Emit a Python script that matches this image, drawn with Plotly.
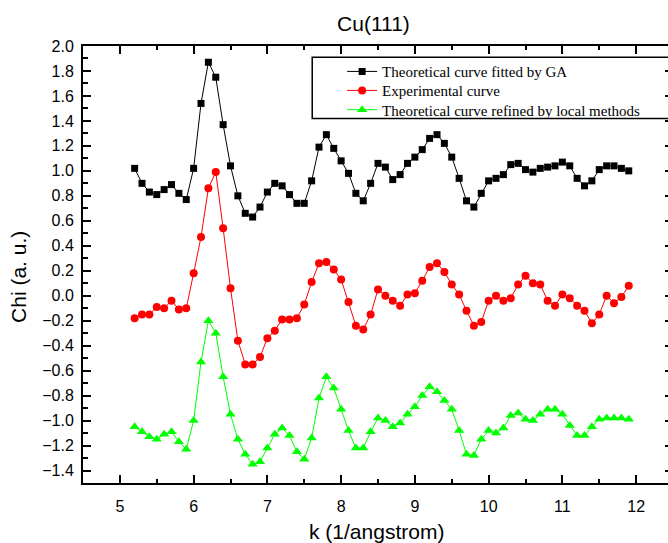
import plotly.graph_objects as go

k = [5.2, 5.3, 5.4, 5.5, 5.6, 5.7, 5.8, 5.9,
     6.0, 6.1, 6.2, 6.3, 6.4, 6.5, 6.6, 6.7, 6.8, 6.9,
     7.0, 7.1, 7.2, 7.3, 7.4, 7.5, 7.6, 7.7, 7.8, 7.9,
     8.0, 8.1, 8.2, 8.3, 8.4, 8.5, 8.6, 8.7, 8.8, 8.9,
     9.0, 9.1, 9.2, 9.3, 9.4, 9.5, 9.6, 9.7, 9.8, 9.9,
     10.0, 10.1, 10.2, 10.3, 10.4, 10.5, 10.6, 10.7, 10.8, 10.9,
     11.0, 11.1, 11.2, 11.3, 11.4, 11.5, 11.6, 11.7, 11.8, 11.9]

ga_fit = [1.02, 0.90, 0.83, 0.81, 0.85, 0.89, 0.82, 0.77,
          1.02, 1.54, 1.87, 1.75, 1.37, 1.04, 0.80, 0.66, 0.63, 0.71,
          0.83, 0.90, 0.88, 0.81, 0.74, 0.74, 0.92, 1.19, 1.29, 1.18,
          1.08, 0.98, 0.82, 0.76, 0.90, 1.06, 1.03, 0.93, 0.97, 1.06,
          1.11, 1.17, 1.26, 1.29, 1.22, 1.11, 0.94, 0.76, 0.71, 0.82,
          0.92, 0.94, 0.97, 1.05, 1.06, 1.01, 0.99, 1.02, 1.03, 1.04,
          1.07, 1.04, 0.94, 0.88, 0.92, 1.01, 1.04, 1.04, 1.02, 1.00]

experimental = [-0.18, -0.15, -0.15, -0.09, -0.10, -0.04, -0.11, -0.10,
                0.18, 0.47, 0.86, 0.99, 0.54, 0.06, -0.36, -0.55, -0.55, -0.49,
                -0.34, -0.28, -0.19, -0.19, -0.18, -0.07, 0.11, 0.26, 0.27, 0.21,
                0.13, -0.05, -0.24, -0.27, -0.15, 0.05, 0.00, -0.04, -0.08, 0.01,
                0.02, 0.12, 0.23, 0.26, 0.19, 0.09, 0.01, -0.12, -0.24, -0.21,
                -0.04, 0.00, -0.04, -0.02, 0.09, 0.16, 0.10, 0.09, -0.04, -0.08,
                0.01, -0.02, -0.08, -0.12, -0.22, -0.15, 0.00, -0.06, -0.01, 0.08]

local_refined = [-1.05, -1.09, -1.13, -1.15, -1.11, -1.09, -1.17, -1.23,
                 -1.00, -0.53, -0.20, -0.30, -0.65, -0.95, -1.15, -1.27, -1.35, -1.33,
                 -1.22, -1.11, -1.06, -1.12, -1.25, -1.31, -1.14, -0.82, -0.65, -0.74,
                 -0.91, -1.08, -1.22, -1.22, -1.09, -0.98, -1.00, -1.05, -1.02, -0.95,
                 -0.89, -0.80, -0.73, -0.77, -0.84, -0.91, -1.08, -1.27, -1.28, -1.15,
                 -1.08, -1.10, -1.06, -0.96, -0.94, -0.99, -1.00, -0.95, -0.91, -0.91,
                 -0.95, -1.04, -1.12, -1.12, -1.05, -0.99, -0.98, -0.98, -0.98, -0.99]

names = ["Theoretical curve fitted by GA",
         "Experimental curve",
         "Theoretical curve refined by local methods"]

# The plot frame runs slightly past the right edge of the 668px window,
# as in the reference (cropped right axis).
W, H = 676, 543
ML, MR, MT = 83, 1, 46
MB = H - 483.5

pw = W - ML - MR
ph = H - MT - MB
def px_x(p):
    return (p - ML) / pw
def px_y(p):
    return 1 - (p - MT) / ph

fig = go.Figure()
fig.add_trace(go.Scatter(x=k, y=ga_fit, mode="lines+markers", name=names[0],
                         line=dict(color="#000000", width=1),
                         marker=dict(symbol="square", size=7, color="#000000"),
                         legend="legend"))
fig.add_trace(go.Scatter(x=k, y=experimental, mode="lines+markers", name=names[1],
                         line=dict(color="#FF0000", width=1),
                         marker=dict(symbol="circle", size=8, color="#FF0000"),
                         legend="legend2"))
fig.add_trace(go.Scatter(x=k, y=local_refined, mode="lines+markers", name=names[2],
                         line=dict(color="#00FF00", width=1),
                         marker=dict(symbol="triangle-up", size=9, color="#00FF00"),
                         legend="legend3"))

fig.add_shape(type="rect", xref="paper", yref="paper",
              x0=px_x(313), x1=1.05, y0=px_y(118.5), y1=px_y(57.3),
              line=dict(color="#000000", width=1.5), fillcolor="white", layer="below")

axis_common = dict(showline=True, linecolor="#000000", linewidth=2, mirror="ticks",
                   ticks="inside", tickcolor="#000000", tickwidth=1.5,
                   showgrid=False, zeroline=False,
                   tickfont=dict(family="Liberation Sans", size=16, color="#000000"))

fig.update_xaxes(range=[4.5, 12.5], dtick=1, tick0=5, ticklen=8,
                 minor=dict(dtick=0.5, ticks="inside", ticklen=4, tickcolor="#000000", tickwidth=1.5),
                 ticklabelstandoff=8,
                 **axis_common)
fig.update_yaxes(range=[-1.5, 2.0], dtick=0.2, tick0=0, ticklen=8, tickformat=".1f",
                 minor=dict(dtick=0.1, ticks="inside", ticklen=5, tickcolor="#000000", tickwidth=1.5),
                 ticklabelstandoff=4,
                 **axis_common)

fig.add_annotation(text="k (1/angstrom)", xref="paper", yref="paper",
                   x=px_x(377), y=px_y(532), xanchor="center", yanchor="middle",
                   showarrow=False,
                   font=dict(family="Liberation Sans", size=21, color="#000000"))
fig.add_annotation(text="Chi (a. u.)", xref="paper", yref="paper",
                   x=px_x(19), y=px_y(277), xanchor="center", yanchor="middle",
                   showarrow=False, textangle=-90,
                   font=dict(family="Liberation Sans", size=21, color="#000000"))

legend_font = dict(family="Liberation Serif", size=15, color="#000000")
legend_x = px_x(343)
legend_rows = [71.7, 90.7, 110.0]
legend_common = dict(x=legend_x, xanchor="left", yanchor="middle",
                     bgcolor="rgba(0,0,0,0)", borderwidth=0, font=legend_font)

fig.update_layout(
    width=W, height=H,
    margin=dict(l=ML, r=MR, t=MT, b=MB),
    paper_bgcolor="white", plot_bgcolor="white",
    title=dict(text="Cu(111)", x=373.5 / W, xref="container", xanchor="center",
               y=1 - 24 / H, yref="container", yanchor="middle",
               font=dict(family="Liberation Sans", size=21, color="#000000")),
    showlegend=True,
    hovermode=False,
    legend=dict(y=px_y(legend_rows[0]), **legend_common),
    legend2=dict(y=px_y(legend_rows[1]), **legend_common),
    legend3=dict(y=px_y(legend_rows[2]), **legend_common),
)

fig.write_html("out.html",
               config={"displayModeBar": False},
               post_script="document.body.style.margin='0';"
                           "document.documentElement.style.overflow='hidden';"
                           "document.body.style.overflow='hidden';")
